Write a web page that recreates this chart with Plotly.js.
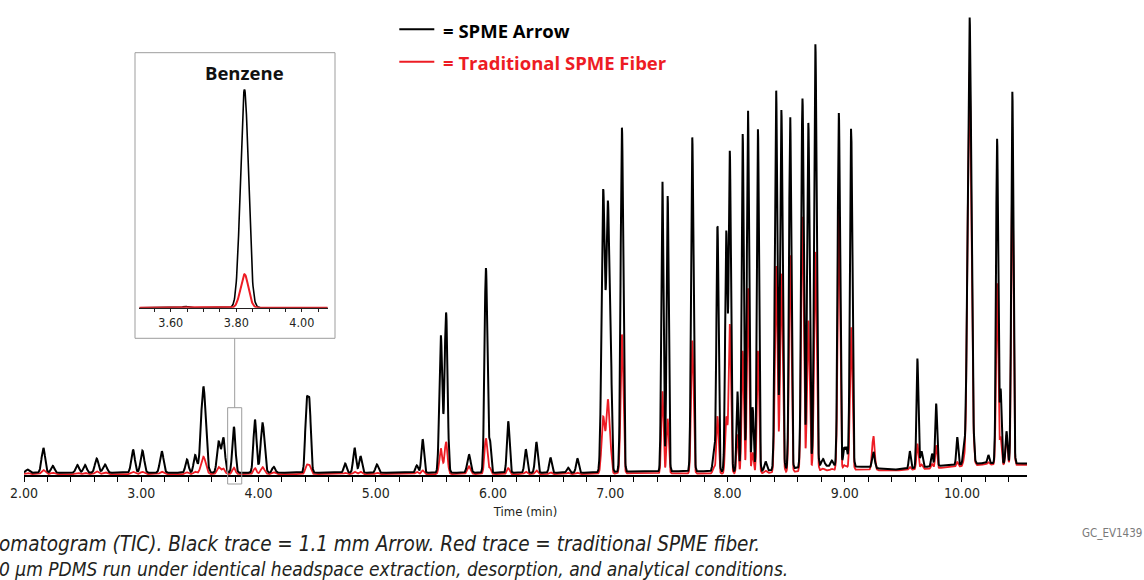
<!DOCTYPE html>
<html>
<head>
<meta charset="utf-8">
<script src="https://cdn.plot.ly/plotly-3.0.1.min.js"></script>
<style>
html,body{margin:0;padding:0;background:#fff;}
#chart{width:1144px;height:580px;}
</style>
</head>
<body>
<div id="chart"></div>
<script>
// ---- Peak table (time in min, height in % of tallest peak) ----
const peakTime = [2.03, 2.165, 2.245, 2.455, 2.52, 2.62, 2.69, 2.93, 3.01, 3.175,
  3.39, 3.46, 3.53, 3.66, 3.70, 3.79, 3.97, 4.035, 4.13, 4.41,
  4.435, 4.74, 4.82, 4.87, 5.01, 5.35, 5.40, 5.555, 5.60, 5.795,
  5.94, 5.975, 6.13, 6.28, 6.37, 6.49, 6.64, 6.72, 6.94, 6.98,
  7.005, 7.10, 7.445, 7.49, 7.70, 7.885, 7.915, 7.99, 8.02, 8.085,
  8.13, 8.175, 8.215, 8.26, 8.325, 8.415, 8.46, 8.535, 8.64, 8.69,
  8.75, 8.815, 8.89, 8.95, 8.995, 9.015, 9.055, 9.245, 9.555, 9.62,
  9.655, 9.745, 9.78, 9.96, 10.015, 10.065, 10.225, 10.30, 10.33, 10.38,
  10.43];
const arrowHeight = [0.7, 5.4, 1.5, 1.7, 1.7, 3.1, 1.8, 5.0, 4.8, 4.7,
  2.9, 3.8, 18.8, 6.7, 7.6, 10.0, 11.6, 10.8, 1.3, 14.3,
  14.3, 2.0, 5.4, 3.6, 1.8, 1.6, 7.3, 30.0, 34.9, 4.0,
  44.6, 6.5, 11.2, 5.1, 6.7, 3.3, 1.1, 3.1, 61.0, 58.0,
  21.0, 75.0, 63.5, 60.0, 72.8, 4.5, 53.6, 52.0, 69.5, 17.5,
  73.5, 79.0, 14.0, 74.5, 2.0, 83.0, 78.3, 77.0, 80.4, 75.0,
  92.0, 1.5, 1.2, 77.0, 4.0, 4.0, 74.0, 3.5, 3.8, 23.8,
  3.5, 2.8, 13.6, 6.0, 3.2, 97.5, 1.8, 70.7, 16.0, 7.0,
  81.0];
const fiberHeight = [0.3, 0.9, 0.3, 0.3, 0.3, 0.6, 0.4, 0.5, 0.5, 0.5,
  0.4, 0.5, 3.8, 1.5, 1.2, 1.4, 1.3, 1.5, 0.4, 1.8,
  1.8, 0.3, 0.5, 0.5, 0.3, 0.5, 0.8, 5.6, 7.0, 1.7,
  7.8, 1.3, 1.3, 0.5, 0.8, 0.4, 0.3, 0.3, 12.3, 16.0,
  3.5, 30.3, 18.0, 11.9, 29.0, 1.5, 12.4, 12.2, 32.5, 8.6,
  26.7, 40.6, 4.6, 26.7, 0.5, 45.2, 43.3, 47.5, 55.5, 32.8,
  47.7, 0.4, 0.3, 56.5, 1.0, 0.8, 31.2, 7.4, 0.6, 5.6,
  1.0, 1.0, 5.0, 1.0, 0.8, 86.0, 0.5, 39.5, 6.0, 6.5,
  65.0];
const peakWidth = [0.014, 0.015, 0.014, 0.014, 0.014, 0.015, 0.016, 0.015, 0.015, 0.015,
  0.013, 0.013, 0.020, 0.014, 0.014, 0.013, 0.013, 0.016, 0.013, 0.012,
  0.012, 0.012, 0.012, 0.012, 0.012, 0.011, 0.011, 0.0125, 0.0125, 0.014,
  0.012, 0.009, 0.011, 0.011, 0.011, 0.011, 0.011, 0.011, 0.0135, 0.0135,
  0.009, 0.011, 0.009, 0.009, 0.010, 0.010, 0.009, 0.0095, 0.0095, 0.008,
  0.009, 0.009, 0.008, 0.009, 0.010, 0.0105, 0.0105, 0.0095, 0.0105, 0.0105,
  0.0105, 0.012, 0.010, 0.010, 0.008, 0.008, 0.010, 0.011, 0.008, 0.008,
  0.010, 0.008, 0.008, 0.008, 0.008, 0.016, 0.008, 0.009, 0.008, 0.008,
  0.009];
// baseline level read along the run
const baseTime = [2.0, 6.8, 7.2, 7.9, 8.3, 8.8, 9.15, 9.4, 9.8, 10.2, 10.56];
const arrowBase = [0.5, 0.5, 0.8, 0.8, 0.9, 2.0, 1.8, 1.1, 2.0, 2.6, 2.5];
const fiberBase = [0.2, 0.2, 0.4, 0.3, 0.4, 1.0, 1.2, 0.9, 1.5, 2.3, 2.2];

// ---- Benzene inset (extracted trace) ----
const insetTime = [3.645, 3.825];
const insetArrow = [0.6, 100];
const insetFiber = [0.1, 15.3];
const insetWidth = [0.008, 0.0121];

// ---- Axis ticks ----
const mainTicks = [2, 3, 4, 5, 6, 7, 8, 9, 10];
const mainTickText = ['2.00', '3.00', '4.00', '5.00', '6.00', '7.00', '8.00', '9.00', '10.00'];
const insetTicks = [3.6, 3.8, 4.0];
const insetTickText = ['3.60', '3.80', '4.00'];

function baseAt(t, bt, bv) {
  for (let i = 0; i < bt.length - 1; i++) {
    if (t >= bt[i] && t <= bt[i + 1]) {
      const f = (t - bt[i]) / (bt[i + 1] - bt[i]);
      return bv[i] + f * (bv[i + 1] - bv[i]);
    }
  }
  return bv[bv.length - 1];
}
function buildTrace(t0, t1, step, times, heights, widths, bt, bv) {
  const xs = [], ys = [];
  const n = Math.round((t1 - t0) / step);
  for (let k = 0; k <= n; k++) {
    const t = t0 + k * step;
    let y = bt ? baseAt(t, bt, bv) : 0;
    for (let i = 0; i < times.length; i++) {
      const d = (t - times[i]) / widths[i];
      if (Math.abs(d) < 6) y += heights[i] * Math.exp(-0.5 * d * d);
    }
    xs.push(+t.toFixed(4)); ys.push(y);
  }
  return {x: xs, y: ys};
}

const BLACK = '#000000', RED = '#ed1c24';
const mainA = buildTrace(2.0, 10.556, 0.002, peakTime, arrowHeight, peakWidth, baseTime, arrowBase);
const mainF = buildTrace(2.0, 10.556, 0.002, peakTime, fiberHeight, peakWidth, baseTime, fiberBase);
const insA = buildTrace(3.504, 4.079, 0.001, insetTime, insetArrow, insetWidth, null, null);
const insF = buildTrace(3.504, 4.079, 0.001, insetTime, insetFiber, insetWidth, null, null);

const traces = [
  {x: mainF.x, y: mainF.y, type: 'scatter', mode: 'lines', name: 'Traditional SPME Fiber',
   line: {color: RED, width: 1.8}, xaxis: 'x', yaxis: 'y', hoverinfo: 'skip'},
  {x: mainA.x, y: mainA.y, type: 'scatter', mode: 'lines', name: 'SPME Arrow',
   line: {color: BLACK, width: 2}, xaxis: 'x', yaxis: 'y', hoverinfo: 'skip'},
  {x: insA.x, y: insA.y, type: 'scatter', mode: 'lines', name: 'SPME Arrow (benzene)',
   line: {color: BLACK, width: 1.6}, xaxis: 'x2', yaxis: 'y2', hoverinfo: 'skip'},
  {x: insF.x, y: insF.y, type: 'scatter', mode: 'lines', name: 'Traditional SPME Fiber (benzene)',
   line: {color: RED, width: 2}, xaxis: 'x2', yaxis: 'y2', hoverinfo: 'skip'}
];

const COND = 'DejaVu Sans Condensed, DejaVu Sans, sans-serif';
const BOLD = 'Open Sans, Noto Sans, sans-serif';
const W = 1144, L = 24, R = 117, T = 14, B = 105;
const pw = W - L - R, ph = 580 - T - B;
const px = v => (v - L) / pw;          // pixel x -> paper
const py = v => (580 - B - v) / ph;    // pixel y -> paper

const layout = {
  width: W, height: 580,
  margin: {l: L, r: R, t: T, b: B, pad: 0},
  paper_bgcolor: '#fff', plot_bgcolor: 'rgba(0,0,0,0)',
  showlegend: false,
  xaxis: {
    domain: [0, 1], range: [2.0, 10.555], anchor: 'y',
    showline: true, linecolor: '#000', linewidth: 1.5, showgrid: false, zeroline: false,
    ticks: 'outside', ticklen: 5, tickwidth: 1, tickcolor: '#000',
    tickvals: mainTicks, ticktext: mainTickText,
    tickfont: {family: COND, size: 14, color: '#231f20'},
    minor: {tick0: 2, dtick: 0.2, ticks: 'outside', ticklen: 5, tickwidth: 1, tickcolor: '#000', showgrid: false},
    title: {text: 'Time (min)', font: {family: COND, size: 13, color: '#231f20'}, standoff: 6}
  },
  yaxis: {domain: [0, 1], range: [0, 100.5], visible: false, fixedrange: true},
  xaxis2: {
    domain: [px(139.3), px(327.7)], range: [3.504, 4.079], anchor: 'y2',
    showline: true, linecolor: '#231f20', linewidth: 1.2, showgrid: false, zeroline: false,
    ticks: 'outside', ticklen: 3, tickwidth: 1, tickcolor: '#231f20',
    tickvals: insetTicks, ticktext: insetTickText,
    tickfont: {family: COND, size: 12.5, color: '#231f20'},
    minor: {tick0: 3.5, dtick: 0.05, ticks: 'outside', ticklen: 3, tickwidth: 1, tickcolor: '#231f20', showgrid: false}
  },
  yaxis2: {domain: [py(307.7), py(307.7) + (307.7 - 89.3) / ph], range: [0, 100], anchor: 'x2', visible: false},
  shapes: [
    // inset frame
    {type: 'rect', xref: 'paper', yref: 'paper', x0: px(135), x1: px(335), y0: py(338.3), y1: py(52.7),
     line: {color: '#9d9d9d', width: 1}, fillcolor: 'rgba(0,0,0,0)', layer: 'below'},
    // zoom region box around benzene
    {type: 'rect', xref: 'x', yref: 'paper', x0: 3.737, x1: 3.857, y0: py(484), y1: py(407.7),
     line: {color: '#9d9d9d', width: 1}, fillcolor: 'rgba(0,0,0,0)'},
    // connector
    {type: 'line', xref: 'x', yref: 'paper', x0: 3.797, x1: 3.797, y0: py(407.7), y1: py(338.3),
     line: {color: '#9d9d9d', width: 1}},
    // legend keys
    {type: 'line', xref: 'paper', yref: 'paper', x0: px(399.3), x1: px(434.3), y0: py(29.3), y1: py(29.3),
     line: {color: BLACK, width: 2}},
    {type: 'line', xref: 'paper', yref: 'paper', x0: px(399.3), x1: px(434.3), y0: py(61.7), y1: py(61.7),
     line: {color: RED, width: 2}}
  ],
  annotations: [
    {xref: 'paper', yref: 'paper', x: px(441), y: py(30), xanchor: 'left', yanchor: 'middle', showarrow: false,
     text: '<b>= SPME Arrow</b>', font: {family: BOLD, size: 18.5, color: BLACK}},
    {xref: 'paper', yref: 'paper', x: px(441), y: py(62), xanchor: 'left', yanchor: 'middle', showarrow: false,
     text: '<b>= Traditional SPME Fiber</b>', font: {family: BOLD, size: 18.5, color: RED}},
    {xref: 'paper', yref: 'paper', x: px(244), y: py(72), xanchor: 'center', yanchor: 'middle', showarrow: false,
     text: '<b>Benzene</b>', font: {family: BOLD, size: 18.5, color: '#111'}},
    {xref: 'paper', yref: 'paper', x: px(1144), y: py(533), xanchor: 'right', yanchor: 'middle', showarrow: false,
     text: 'GC_EV1439', font: {family: COND, size: 11.5, color: '#7a7a7a'}},
    {xref: 'paper', yref: 'paper', x: px(-3), y: py(544), xanchor: 'left', yanchor: 'middle', showarrow: false,
     text: 'omatogram (TIC). Black trace = 1.1 mm Arrow. Red trace = traditional SPME fiber.',
     font: {family: COND, size: 20.5, color: '#231f20', style: 'italic'}},
    {xref: 'paper', yref: 'paper', x: px(-3), y: py(569), xanchor: 'left', yanchor: 'middle', showarrow: false,
     text: '0 µm PDMS run under identical headspace extraction, desorption, and analytical conditions.',
     font: {family: COND, size: 19, color: '#231f20', style: 'italic'}}
  ]
};

Plotly.newPlot('chart', traces, layout, {staticPlot: true, displayModeBar: false});
</script>
</body>
</html>
